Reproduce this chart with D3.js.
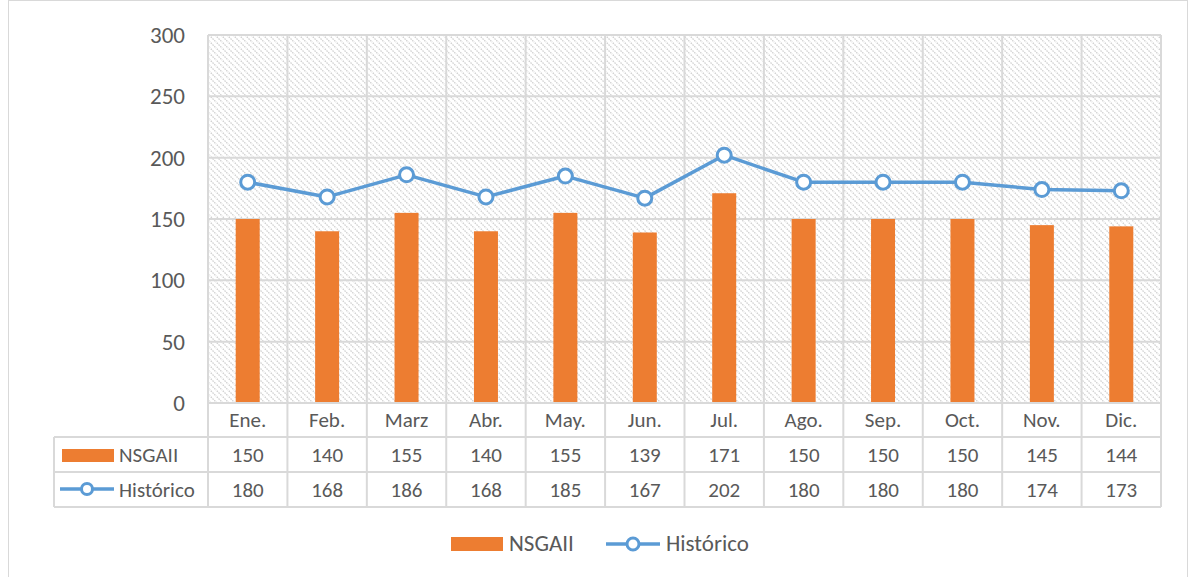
<!DOCTYPE html>
<html><head><meta charset="utf-8">
<script src="https://cdn.jsdelivr.net/npm/d3@7"></script>
<style>body{margin:0;background:#fff}svg{display:block;font-family:Calibri,Carlito,"Liberation Sans","Open Sans",sans-serif}</style>
</head><body><svg id="c" width="1196" height="577"></svg>
<script>
const categories = ["Ene.","Feb.","Marz","Abr.","May.","Jun.","Jul.","Ago.","Sep.","Oct.","Nov.","Dic."];
const nsgaii = [150,140,155,140,155,139,171,150,150,150,145,144];
const historico = [180,168,186,168,185,167,202,180,180,180,174,173];
const yTicks = [0,50,100,150,200,250,300];
const seriesNames = ["NSGAII","Histórico"];

const svg = d3.select("#c");
const W=1196,H=577;
const L=208,R=1161,T=35,B=403;
const orange="#ED7D31", blue="#5B9BD5", grid="#d9d9d9", txt="#595959";

// chart border
svg.append("rect").attr("x",8.5).attr("y",0.5).attr("width",1179).attr("height",H+5).attr("fill","#fff").attr("stroke","#d9d9d9");

const defs=svg.append("defs");
const pat=defs.append("pattern").attr("id","hatch").attr("patternUnits","userSpaceOnUse").attr("width",6).attr("height",6);
pat.append("rect").attr("width",6).attr("height",6).attr("fill","#fff");
pat.append("path").attr("d","M-1,-1 L7,7 M-1,5 L1,7 M5,-1 L7,1").attr("stroke","#cfcfcf").attr("stroke-width",1.3).attr("stroke-dasharray","1.5,1");

const x=d3.scaleBand().domain(categories).range([L,R]);
const y=d3.scaleLinear().domain([0,300]).range([B,T]);

svg.append("rect").attr("x",L).attr("y",T).attr("width",R-L).attr("height",B-T).attr("fill","url(#hatch)");

// gridlines
svg.append("g").selectAll("line").data(yTicks).join("line")
 .attr("x1",L).attr("x2",R).attr("y1",d=>y(d)).attr("y2",d=>y(d)).attr("stroke",grid).attr("stroke-width",2);
const bounds=categories.map(c=>x(c)).concat([R]);
svg.append("g").selectAll("line").data(bounds).join("line")
 .attr("x1",d=>d).attr("x2",d=>d).attr("y1",T).attr("y2",B).attr("stroke",grid).attr("stroke-width",2);

// y axis labels
const yAxis=d3.axisLeft(y).tickValues(yTicks).tickSize(0).tickPadding(23);
const ya=svg.append("g").attr("transform",`translate(${L},0)`).call(yAxis);
ya.select(".domain").remove();
ya.selectAll("text").attr("fill",txt).attr("font-size",23).attr("font-family","Calibri,Carlito,'Liberation Sans',sans-serif");

// bars
const bw=24;
svg.append("g").selectAll("rect").data(nsgaii).join("rect")
 .attr("x",(d,i)=>x(categories[i])+x.bandwidth()/2-bw/2).attr("width",bw)
 .attr("y",d=>y(d)).attr("height",d=>y(0)-y(d)).attr("fill",orange);

// line
const line=d3.line().x((d,i)=>x(categories[i])+x.bandwidth()/2).y(d=>y(d));
svg.append("path").datum(historico).attr("d",line).attr("fill","none").attr("stroke",blue).attr("stroke-width",3.5).attr("stroke-linejoin","round");
svg.append("g").selectAll("circle").data(historico).join("circle")
 .attr("cx",(d,i)=>x(categories[i])+x.bandwidth()/2).attr("cy",d=>y(d)).attr("r",7)
 .attr("fill","#fff").attr("stroke",blue).attr("stroke-width",3);

// data table
const TL=54;
const tg=svg.append("g");
tg.append("line").attr("x1",L).attr("x2",R).attr("y1",B).attr("y2",B).attr("stroke",grid).attr("stroke-width",2);
[437,472,507].forEach(yy=>tg.append("line").attr("x1",TL).attr("x2",R).attr("y1",yy).attr("y2",yy).attr("stroke",grid).attr("stroke-width",2));
bounds.forEach(xx=>tg.append("line").attr("x1",xx).attr("x2",xx).attr("y1",B).attr("y2",507).attr("stroke",grid).attr("stroke-width",2));
tg.append("line").attr("x1",TL).attr("x2",TL).attr("y1",437).attr("y2",507).attr("stroke",grid).attr("stroke-width",2);

const fs=21;
tg.selectAll("text.cat").data(categories).join("text").attr("class","cat")
 .attr("x",d=>x(d)+x.bandwidth()/2).attr("y",427).attr("text-anchor","middle").attr("fill",txt).attr("font-size",fs).text(d=>d);
tg.selectAll("text.v1").data(nsgaii).join("text").attr("class","v1")
 .attr("x",(d,i)=>x(categories[i])+x.bandwidth()/2).attr("y",462).attr("text-anchor","middle").attr("fill",txt).attr("font-size",fs).text(d=>d);
tg.selectAll("text.v2").data(historico).join("text").attr("class","v2")
 .attr("x",(d,i)=>x(categories[i])+x.bandwidth()/2).attr("y",497).attr("text-anchor","middle").attr("fill",txt).attr("font-size",fs).text(d=>d);

// row keys
tg.append("rect").attr("x",62).attr("y",449).attr("width",52).attr("height",13).attr("fill",orange);
tg.append("text").attr("x",119).attr("y",462).attr("fill",txt).attr("font-size",fs).text(seriesNames[0]);
tg.append("line").attr("x1",60).attr("x2",114).attr("y1",489).attr("y2",489).attr("stroke",blue).attr("stroke-width",3.5);
tg.append("circle").attr("cx",87).attr("cy",489).attr("r",5.5).attr("fill","#fff").attr("stroke",blue).attr("stroke-width",3);
tg.append("text").attr("x",119).attr("y",497).attr("fill",txt).attr("font-size",fs).text(seriesNames[1]);

// legend
const lg=svg.append("g");
lg.append("rect").attr("x",451).attr("y",537).attr("width",52).attr("height",14).attr("fill",orange);
lg.append("text").attr("x",509).attr("y",551).attr("fill",txt).attr("font-size",23).text(seriesNames[0]);
lg.append("line").attr("x1",606).attr("x2",660).attr("y1",544).attr("y2",544).attr("stroke",blue).attr("stroke-width",3.5);
lg.append("circle").attr("cx",633).attr("cy",544).attr("r",6).attr("fill","#fff").attr("stroke",blue).attr("stroke-width",3);
lg.append("text").attr("x",666).attr("y",551).attr("fill",txt).attr("font-size",23).text(seriesNames[1]);
</script></body></html>
